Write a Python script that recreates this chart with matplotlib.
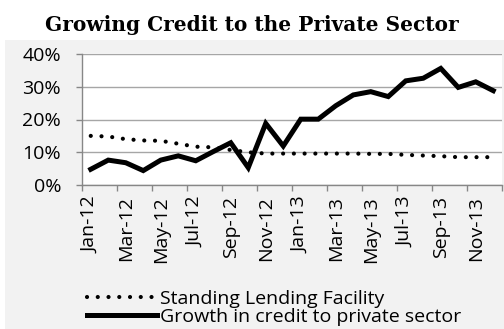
import matplotlib
matplotlib.use("Agg")
import matplotlib.pyplot as plt
import numpy as np
from matplotlib.patches import Rectangle
from matplotlib.ticker import FuncFormatter, FixedLocator

months = ['Jan-12', 'Feb-12', 'Mar-12', 'Apr-12', 'May-12', 'Jun-12',
          'Jul-12', 'Aug-12', 'Sep-12', 'Oct-12', 'Nov-12', 'Dec-12',
          'Jan-13', 'Feb-13', 'Mar-13', 'Apr-13', 'May-13', 'Jun-13',
          'Jul-13', 'Aug-13', 'Sep-13', 'Oct-13', 'Nov-13', 'Dec-13']

# standing lending facility rate (%)
slf = [15.0, 14.8, 14.0, 13.6, 13.5, 12.6, 11.7, 11.5, 10.7, 10.0, 9.6, 9.6,
       9.6, 9.6, 9.6, 9.6, 9.5, 9.5, 9.2, 9.0, 8.8, 8.5, 8.5, 8.5]

# growth in credit to private sector (%)
credit = [4.8, 7.6, 6.8, 4.4, 7.6, 8.9, 7.4, 10.2, 12.9, 5.3, 18.8, 11.9,
          20.1, 20.1, 24.2, 27.5, 28.5, 27.0, 31.8, 32.6, 35.6, 29.8, 31.5, 28.8]

font = 'Open Sans'
fs = 14

fig = plt.figure(figsize=(5.04, 3.29), dpi=100)
fig.patch.set_facecolor('white')
fig.patches.append(Rectangle((5 / 504, 0), 1, (329 - 40) / 329,
                             transform=fig.transFigure, facecolor='#f2f2f2',
                             edgecolor='none', zorder=-10))

ax = fig.add_axes([82 / 504, 1 - 185 / 329, 420 / 504, 131 / 329])
ax.set_facecolor('white')

x = np.arange(len(months))
l1, = ax.plot(x, slf, color='black', lw=3.0, linestyle=(0, (0.01, 2.57)),
              dash_capstyle='round', label='Standing Lending Facility', zorder=3)
l2, = ax.plot(x, credit, color='black', lw=3.6, solid_joinstyle='miter',
              label='Growth in credit to private sector', zorder=4)

ax.set_xlim(-0.5, len(months) - 0.5)
ax.set_ylim(0, 40)
ax.set_yticks([0, 10, 20, 30, 40])
ax.yaxis.set_major_formatter(FuncFormatter(lambda v, p: '%d%%' % v))
ax.grid(axis='y', color='#a6a6a6', lw=1.0)
ax.set_axisbelow(True)

# category ticks between every second month, labels on every second month
ax.xaxis.set_major_locator(FixedLocator(np.arange(-0.5, len(months), 2)))
ax.xaxis.set_major_formatter(FuncFormatter(lambda v, p: ''))
ax.set_xticks(x[::2], minor=True)
ax.set_xticklabels(months[::2], minor=True, rotation=90, fontsize=fs,
                   family=font, color='black')
ax.tick_params(axis='x', which='minor', length=0, pad=8)
ax.tick_params(axis='x', which='major', length=4, color='#878787', width=1)
ax.tick_params(axis='y', length=4, color='#878787', width=1, pad=11,
               labelsize=fs)
for t in ax.get_yticklabels():
    t.set_family(font)

for s in ['top', 'right']:
    ax.spines[s].set_visible(False)
for s in ['left', 'bottom']:
    ax.spines[s].set_color('#878787')
    ax.spines[s].set_linewidth(1.0)

fig.text(0.5, 1 - 25 / 329, 'Growing Credit to the Private Sector',
         ha='center', va='center', fontsize=14.5, fontweight='bold',
         family='DejaVu Serif')

leg = fig.legend(handles=[l1, l2], loc='upper left',
                 bbox_to_anchor=(77 / 504, 1 - 280 / 329), frameon=False,
                 prop={'family': font, 'size': fs}, handlelength=3.6,
                 handletextpad=0.15, labelspacing=0.0, borderpad=0)

fig.savefig('out.png', dpi=100, facecolor=fig.get_facecolor())
